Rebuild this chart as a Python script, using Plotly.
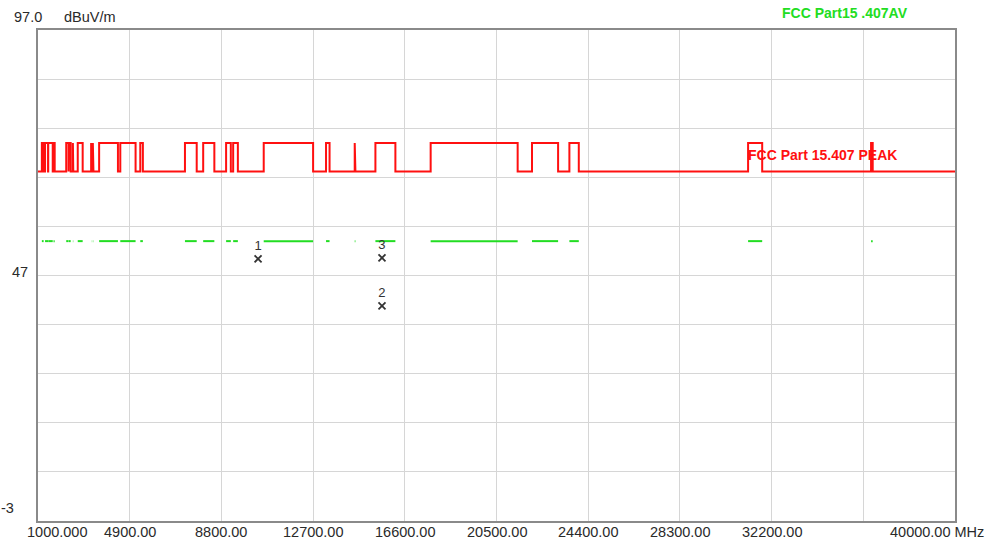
import plotly.graph_objects as go

# Restricted band edges (MHz) where the limit steps up
band_start = [1164, 1300, 1435, 1645.5, 1660, 1718.8, 2200, 2310, 2483.5, 2690, 3260, 3332, 3345.8,
              3600, 4500, 5350, 7250, 8025, 9000, 9300, 10600, 13250, 14470, 15350, 17700, 22010,
              23600, 31200, 36430]
band_stop = [1240, 1427, 1626.5, 1646.5, 1710, 1722.2, 2300, 2390, 2500, 2900, 3267, 3339, 3358,
             4400, 5150, 5460, 7750, 8500, 9200, 9500, 12700, 13400, 14500, 16200, 21400, 23120,
             24000, 31800, 36500]
peak_high = 74.0      # dBuV/m in restricted bands
peak_low = 68.2       # dBuV/m elsewhere
avg_limit = 54.0      # dBuV/m average limit in restricted bands

f_min, f_max = 1000.0, 40000.0
y_min, y_max = -3.0, 97.0

marker_freq = [10360, 15630, 15630]
marker_level = [50.4, 40.8, 50.6]
marker_label = ["1", "2", "3"]

x_tick_vals = [4900, 8800, 12700, 16600, 20500, 24400, 28300, 32200, 36100]
x_tick_text = ["4900.00", "8800.00", "12700.00", "16600.00", "20500.00", "24400.00",
               "28300.00", "32200.00", ""]

# Build peak limit step line
px_, py_ = [f_min], [peak_low]
for s, e in zip(band_start, band_stop):
    px_ += [s, s, e, e]
    py_ += [peak_low, peak_high, peak_high, peak_low]
px_.append(f_max)
py_.append(peak_low)

# Average limit segments (only in restricted bands)
ax_, ay_ = [], []
for s, e in zip(band_start, band_stop):
    ax_ += [s, e, None]
    ay_ += [avg_limit, avg_limit, None]

FONT = "Liberation Sans, Arial, sans-serif"
TXT = "#2a2a2a"

fig = go.Figure()
fig.add_trace(go.Scatter(x=ax_, y=ay_, mode="lines", line=dict(color="#22dd22", width=2),
                         connectgaps=False, hoverinfo="skip", showlegend=False))
fig.add_trace(go.Scatter(x=px_, y=py_, mode="lines", line=dict(color="#ff1010", width=2),
                         hoverinfo="skip", showlegend=False))
fig.add_trace(go.Scatter(x=marker_freq, y=marker_level, mode="markers+text",
                         marker=dict(symbol="x-thin", size=7, line=dict(color="#333333", width=1.8),
                                     color="#333333"),
                         text=marker_label, textposition="top center",
                         textfont=dict(family=FONT, size=13, color="#333333"),
                         showlegend=False))

fig.update_layout(
    width=991, height=542,
    margin=dict(l=38, r=36, t=30, b=21, autoexpand=False),
    paper_bgcolor="white", plot_bgcolor="white",
    font=dict(family=FONT, size=15, color=TXT),
    xaxis=dict(range=[f_min, f_max], tickvals=x_tick_vals, showticklabels=False,
               showgrid=True, gridcolor="#d6d6d6", gridwidth=1, zeroline=False,
               showline=True, mirror=True, linecolor="#8a8a8a", linewidth=2,
               ticks="", automargin=False),
    yaxis=dict(range=[y_min, y_max], dtick=10, tick0=-3, showticklabels=False,
               showgrid=True, gridcolor="#d6d6d6", gridwidth=1, zeroline=False, automargin=False,
               showline=True, mirror=True, linecolor="#8a8a8a", linewidth=2, ticks=""),
)

ann_font = dict(family=FONT, size=14.5, color=TXT)
for tv, tt in zip(x_tick_vals, x_tick_text):
    if tt:
        fig.add_annotation(x=tv, y=0, xref="x", yref="paper", text=tt, showarrow=False,
                           xanchor="center", yanchor="middle", yshift=-11, font=ann_font)
fig.add_annotation(x=f_min, y=0, xref="x", yref="paper", text="1000.000", showarrow=False,
                   xanchor="left", yanchor="middle", xshift=-13, yshift=-11, font=ann_font)
fig.add_annotation(x=f_max, y=0, xref="x", yref="paper", text="40000.00 MHz", showarrow=False,
                   xanchor="right", yanchor="middle", xshift=31, yshift=-11, font=ann_font)
fig.add_annotation(x=0, y=y_max, xref="paper", yref="y", text="97.0", showarrow=False,
                   xanchor="left", yanchor="middle", xshift=-26, yshift=13, font=ann_font)
fig.add_annotation(x=0, y=y_max, xref="paper", yref="y", text="dBuV/m", showarrow=False,
                   xanchor="left", yanchor="middle", xshift=24, yshift=13, font=ann_font)
fig.add_annotation(x=0, y=47, xref="paper", yref="y", text="47", showarrow=False,
                   xanchor="right", yanchor="middle", xshift=-8, yshift=4, font=ann_font)
fig.add_annotation(x=0, y=y_min, xref="paper", yref="y", text="-3", showarrow=False,
                   xanchor="right", yanchor="middle", xshift=-22, yshift=13, font=ann_font)
fig.add_annotation(x=31200, y=peak_low, xref="x", yref="y", text="<b>FCC Part 15.407 PEAK</b>",
                   showarrow=False, xanchor="left", yanchor="middle", xshift=-2, yshift=16,
                   font=dict(family=FONT, size=14, color="#ff1010"))
fig.add_annotation(x=1, y=1, xref="paper", yref="paper", text="<b>FCC Part15 .407AV</b>",
                   showarrow=False, xanchor="right", yanchor="middle", xshift=-45, yshift=17,
                   font=dict(family=FONT, size=14, color="#22dd22"))

fig.write_html("out.html", config={"displayModeBar": False},
               post_script="document.body.style.margin='0';")
